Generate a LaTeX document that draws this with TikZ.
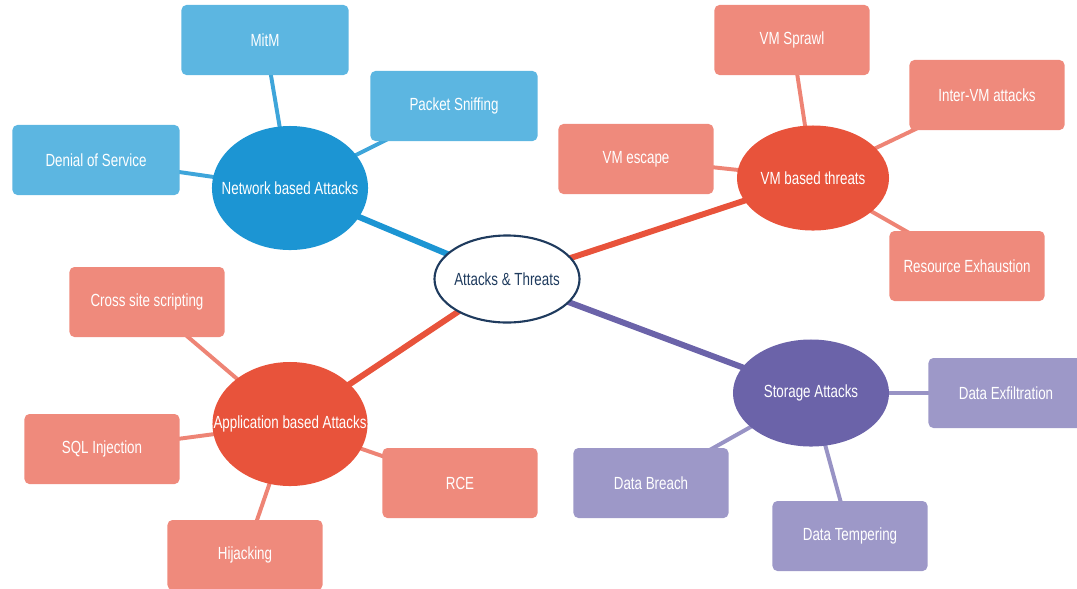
\documentclass[tikz,border=0pt]{standalone}
\usepackage{fontspec}
\setmainfont{Liberation Sans}[FakeStretch=0.76]
\usepackage{xcolor}
\definecolor{Sky Blue}{HTML}{5CB6E1}
\definecolor{Ocean Blue}{HTML}{1C95D3}
\definecolor{Salmon}{HTML}{EF8A7C}
\definecolor{Cinnabar}{HTML}{E8533B}
\definecolor{Lavender}{HTML}{9D98C8}
\definecolor{Iris}{HTML}{6B63A9}
\definecolor{Deep Navy}{HTML}{1F3B5E}
\colorlet{cBlueLight}{Sky Blue}
\colorlet{cBlue}{Ocean Blue}
\colorlet{cRedLight}{Salmon}
\colorlet{cRed}{Cinnabar}
\colorlet{cPurpleLight}{Lavender}
\colorlet{cPurple}{Iris}
\colorlet{cNavy}{Deep Navy}
\usepackage{tikz}
\usetikzlibrary{shapes.geometric, backgrounds}
\newcommand{\squeeze}[1]{\makebox[0pt]{#1}}
\tikzset{
	font = \fontsize{12.5}{14}\selectfont,
	hub/.style={
		ellipse,
		inner sep=0pt,
		text=white
	},
	leaf/.style={
		rectangle,
		rounded corners=3.5pt,
		minimum width=3.875cm,
		minimum height=1.75cm,
		text=white
	},
	branch/.style={
		line width=4.25pt
	},
	twig/.style={
		line width=2.8pt
	}
}

\begin{document}
\begin{tikzpicture}[x=0.025cm, y=-0.025cm]
		\useasboundingbox (0,0) rectangle (1077,588);
		\clip (0,0) rectangle (1077,588);

		% centre
		\node[hub, fill=white, draw=cNavy, line width=1.5pt, text=cNavy, minimum width=3.625cm, minimum height=2.175cm] at (507,279) (ctr) {\squeeze{Attacks \& Threats}};

		% network
		\node[hub, fill=cBlue, minimum width=3.9cm, minimum height=3.1cm] at (290,188) (net) {\squeeze{Network based Attacks}};
		\node[leaf, fill=cBlueLight, minimum width=4.175cm] at (265,40) (mitm) {MitM};
		\node[leaf, fill=cBlueLight, minimum width=4.175cm] at (454,106) (sniff) {Packet Sniffing};
		\node[leaf, fill=cBlueLight, minimum width=4.175cm] at (96,160) (dos) {Denial of Service};

		% vm
		\node[hub, fill=cRed, minimum width=3.8cm, minimum height=2.625cm] at (813,178) (vm) {\squeeze{VM based threats}};
		\node[leaf, fill=cRedLight] at (792,40) (sprawl) {VM Sprawl};
		\node[leaf, fill=cRedLight] at (987,95) (intervm) {Inter-VM attacks};
		\node[leaf, fill=cRedLight] at (636,159) (escape) {VM escape};
		\node[leaf, fill=cRedLight] at (967,266) (exhaust) {Resource Exhaustion};

		% application
		\node[hub, fill=cRed, minimum width=3.875cm, minimum height=3.1cm] at (290,424) (app) {\squeeze{Application based Attacks}};
		\node[leaf, fill=cRedLight] at (147,302) (xss) {Cross site scripting};
		\node[leaf, fill=cRedLight] at (102,449) (sqli) {SQL Injection};
		\node[leaf, fill=cRedLight] at (460,483) (rce) {RCE};
		\node[leaf, fill=cRedLight] at (245,555) (hijack) {Hijacking};

		% storage
		\node[hub, fill=cPurple, minimum width=3.9cm, minimum height=2.675cm] at (811,393) (sto) {\squeeze{Storage Attacks}};
		\node[leaf, fill=cPurpleLight] at (1006,393) (exfil) {Data Exfiltration};
		\node[leaf, fill=cPurpleLight] at (651,483) (breach) {Data Breach};
		\node[leaf, fill=cPurpleLight] at (850,536) (tamper) {Data Tempering};

		\begin{scope}[on background layer]
			\draw[branch, draw=cBlue] (ctr.center) -- (net.center);
			\draw[branch, draw=cRed] (ctr.center) -- (vm.center);
			\draw[branch, draw=cRed] (ctr.center) -- (app.center);
			\draw[branch, draw=cPurple] (ctr.center) -- (sto.center);
			\foreach \leafname in {mitm, sniff, dos}
				\draw[twig, draw=cBlue!85] (net.center) -- (\leafname.center);
			\foreach \leafname in {sprawl, intervm, escape, exhaust}
				\draw[twig, draw=cRedLight!90!cRed] (vm.center) -- (\leafname.center);
			\foreach \leafname in {xss, sqli, rce, hijack}
				\draw[twig, draw=cRedLight!90!cRed] (app.center) -- (\leafname.center);
			\foreach \leafname in {exfil, breach, tamper}
				\draw[twig, draw=cPurpleLight!90!cPurple] (sto.center) -- (\leafname.center);
		\end{scope}
	\end{tikzpicture}
\end{document}
